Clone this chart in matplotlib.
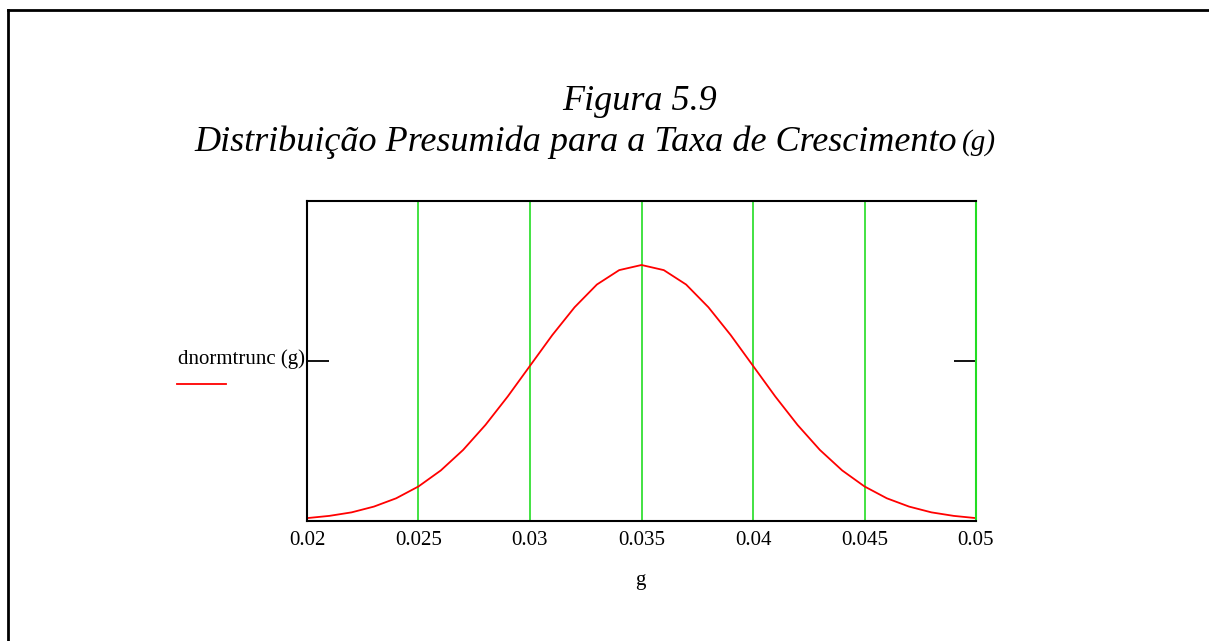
import numpy as np
import matplotlib.pyplot as plt
from matplotlib.lines import Line2D

# values
g_values = [0.020, 0.021, 0.022, 0.023, 0.024, 0.025, 0.026, 0.027, 0.028, 0.029, 0.030,
            0.031, 0.032, 0.033, 0.034, 0.035, 0.036, 0.037, 0.038, 0.039, 0.040,
            0.041, 0.042, 0.043, 0.044, 0.045, 0.046, 0.047, 0.048, 0.049, 0.050]
density = [0.9, 1.6, 2.7, 4.5, 7.1, 10.8, 15.8, 22.2, 30.0, 38.9, 48.5,
           58.1, 66.8, 73.9, 78.4, 80.0, 78.4, 73.9, 66.8, 58.1, 48.5,
           38.9, 30.0, 22.2, 15.8, 10.8, 7.1, 4.5, 2.7, 1.6, 0.9]
x_ticks = [0.02, 0.025, 0.03, 0.035, 0.04, 0.045, 0.05]
x_labels = ['0.02', '0.025', '0.03', '0.035', '0.04', '0.045', '0.05']
y_ticks = [0, 50, 100]

plt.rcParams['font.family'] = ['Liberation Serif', 'DejaVu Serif']

W, H = 1209, 641
fig = plt.figure(figsize=(W / 100, H / 100), dpi=100)

# outer frame (only top and left visible)
fig.add_artist(Line2D([8 / W, 1], [1 - 10 / H, 1 - 10 / H], color='black', lw=2))
fig.add_artist(Line2D([8 / W, 8 / W], [1 - 10 / H, 0], color='black', lw=2))

fig.text(640 / W, 1 - 102 / H, 'Figura 5.9', ha='center', va='center',
         fontsize=26, style='italic')
fig.text(957 / W, 1 - 142 / H, 'Distribuição Presumida para a Taxa de Crescimento', ha='right',
         va='center', fontsize=26, style='italic')
fig.text(962 / W, 1 - 143 / H, '(g)', ha='left', va='center', fontsize=21, style='italic')

left, right, top, bottom = 307, 976, 201, 521
ax = fig.add_axes([left / W, 1 - bottom / H, (right - left) / W, (bottom - top) / H])

for x in x_ticks:
    ax.axvline(x, color='#22dd22', lw=1.2, zorder=1)
ax.plot(g_values, density, color='red', lw=1.3, zorder=3)

ax.set_xlim(0.02, 0.05)
ax.set_ylim(0, 100)
ax.set_xticks(x_ticks)
ax.set_xticklabels(x_labels, fontsize=15)
ax.tick_params(axis='x', length=0, pad=7)
ax.set_yticks(y_ticks)
ax.set_yticklabels([])
ax.tick_params(axis='y', direction='in', length=16, width=1.3, left=True, right=True)
for s in ax.spines.values():
    s.set_linewidth(1.5)
    s.set_zorder(4)
ax.spines['right'].set_color('#22dd22')

fig.text(305 / W, 1 - 359 / H, 'dnormtrunc (g)', ha='right', va='center', fontsize=15)
fig.add_artist(Line2D([177 / W, 226 / W], [1 - 384 / H, 1 - 384 / H], color='red', lw=1.3))
fig.text(640 / W, 1 - 580 / H, 'g', ha='center', va='center', fontsize=15)

plt.savefig('out.png', dpi=100)
